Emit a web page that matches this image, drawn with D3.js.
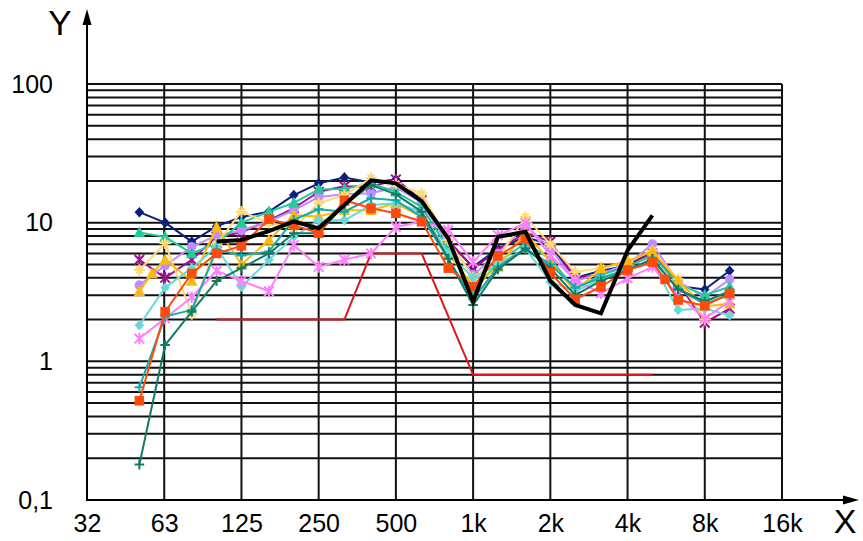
<!DOCTYPE html>
<html>
<head>
<meta charset="utf-8">
<script src="https://cdn.jsdelivr.net/npm/d3@7"></script>
<style>
  html, body { margin: 0; padding: 0; background: #fff; }
  svg { display: block; }
  text { font-family: "Liberation Sans", Arial, Helvetica, sans-serif; fill: #000; }
</style>
</head>
<body>
<svg id="chart" width="863" height="541"></svg>
<script>
// Band frequencies (Hz); 56 and 5600 are only used by a couple of series
const freqs = [50, 56, 63, 80, 100, 125, 160, 200, 250, 315, 400, 500, 630, 800,
               1000, 1250, 1600, 2000, 2500, 3150, 4000, 5000, 5600, 6300, 8000, 10000];

const navyDiamond   = [11.9, null, 10.0, 7.3, 9.4, 11.0, 12.0, 15.8, 19.2, 21.2, 19.5, 20.5, 14.5, 7.3, 4.8, 6.5, 7.9, 6.9, 4.0, 4.5, 4.9, 6.2, null, 3.5, 3.3, 4.5];
const purpleStar    = [5.4, null, 4.0, 5.4, 7.9, 8.5, 10.4, 12.7, 16.7, 18.3, 18.1, 20.5, 14.5, 7.5, 4.7, 6.3, 8.5, 7.3, 4.0, 4.2, 5.0, 6.0, null, 3.7, 1.9, 2.4];
const lilacCircle   = [3.55, null, 4.9, 6.7, 8.1, 8.8, 10.2, 12.3, 15.3, 16.0, 16.3, 18.0, 14.0, 7.0, 4.2, 6.0, 9.6, 6.5, 3.8, 4.3, 5.0, 7.0, null, 3.75, 2.9, 3.9];
const mintTriangle  = [8.5, null, 7.9, 6.0, 7.1, 10.0, 12.0, 13.9, 17.4, 17.5, 19.2, 16.7, 13.0, 6.5, 3.2, 5.2, 7.1, 5.5, 3.3, 4.2, 4.8, 5.8, null, 3.6, 3.0, 3.45];
const paleYellowStar= [4.55, null, 7.1, 2.2, 7.0, 12.0, 10.0, 9.1, 13.8, 15.8, 21.0, 19.0, 16.2, 7.5, 4.0, 5.5, 11.0, 7.0, 4.4, 4.7, 5.2, 6.3, null, 3.9, 2.0, 2.8];
const amberTriangle = [3.2, 4.3, 5.4, 3.8, 9.3, 5.0, 7.5, 11.3, 11.1, 12.3, 12.3, 13.8, 11.0, 6.0, 3.5, 4.8, 8.5, 5.2, 3.2, 4.7, 5.3, 6.2, null, 3.8, 2.5, 2.6];
const skyDiamond    = [1.82, null, 3.4, 4.7, 6.7, 3.45, 5.4, 7.9, 10.4, 10.4, 13.4, 13.8, 12.0, 6.0, 4.0, 5.0, 6.5, 3.75, 3.2, 3.9, 4.6, 5.1, null, 2.35, 2.4, 2.15];
const pinkStar      = [1.46, null, 2.04, 2.9, 4.5, 3.8, 3.2, 6.9, 4.8, 5.4, 6.0, 9.3, 10.2, 8.85, 5.2, 8.1, 9.9, 5.8, 3.85, 3.1, 3.97, 4.8, null, 3.0, 2.04, 2.7];
const tealPlus      = [0.65, null, 2.1, 2.35, 6.4, 5.8, 6.2, 10.5, 12.5, 12.0, 15.0, 14.5, 11.0, 5.5, 2.8, 4.8, 6.5, 5.0, 3.4, 4.0, 4.6, 5.4, null, 3.3, 2.6, 3.0];
const pineCross     = [0.18, null, 1.31, 2.28, 3.8, 4.7, 6.0, 8.4, 8.4, 13.5, 18.7, 16.0, 12.0, 5.5, 2.55, 4.6, 6.5, 4.7, 3.0, 3.8, 4.5, 5.5, null, 3.3, 2.7, 3.2];
const vermilionSquare = [0.52, null, 2.28, 4.3, 6.0, 6.8, 10.6, 9.6, 8.4, 14.5, 12.7, 11.7, 10.2, 4.7, 3.45, 5.75, 7.6, 4.35, 2.8, 3.45, 4.55, 5.2, 3.9, 2.77, 2.52, 3.09];

// Reference curve (thick black)
const refFreqs  = [100, 125, 160, 200, 250, 315, 400, 500, 630, 800, 1000, 1250, 1600, 2000, 2500, 3150, 4000, 5000];
const refValues = [7.3, 7.5, 8.7, 10.2, 9.1, 13.4, 20.2, 19.2, 14.3, 7.7, 2.7, 7.9, 8.6, 3.8, 2.55, 2.22, 6.3, 11.3];

// Limit curve (red)
const limitFreqs  = [100, 315, 400, 630, 1000, 5000];
const limitValues = [2, 2, 6, 6, 0.8, 0.8];

// Axis ticks
const xTicks = [31.25, 62.5, 125, 250, 500, 1000, 2000, 4000, 8000, 16000];
const xTickLabels = ["32", "63", "125", "250", "500", "1k", "2k", "4k", "8k", "16k"];
const yTicks = [0.1, 1, 10, 100];
const yTickLabels = ["0,1", "1", "10", "100"];

const series = [
  { values: navyDiamond,    color: "#0B1F7C", marker: "diamond" },
  { values: purpleStar,     color: "#A0118F", marker: "asterisk" },
  { values: lilacCircle,    color: "#C08CFF", marker: "circle" },
  { values: mintTriangle,   color: "#22CB9C", marker: "triangle" },
  { values: paleYellowStar, color: "#FFD971", marker: "star" },
  { values: amberTriangle,  color: "#FFB90A", marker: "triangle" },
  { values: skyDiamond,     color: "#6AD8D8", marker: "diamond" },
  { values: pinkStar,       color: "#FF80FF", marker: "asterisk" },
  { values: tealPlus,       color: "#14AAAA", marker: "plus" },
  { values: pineCross,      color: "#137A66", marker: "plus" },
  { values: vermilionSquare,color: "#FF4A0A", marker: "square" }
];

const svg = d3.select("#chart");
const plotLeft = 87, plotRight = 782, plotTop = 84, plotBottom = 500;

const x = d3.scaleLog().domain([31.25, 16000]).range([plotLeft, plotRight]);
const y = d3.scaleLog().domain([0.1, 100]).range([plotBottom, plotTop]);

// Grid: every 1..9 step of each decade, plus vertical octave lines
const yGrid = [];
for (let e = -1; e <= 1; e++) for (let m = 1; m <= 9; m++) yGrid.push(+(m * Math.pow(10, e)).toPrecision(3));
yGrid.push(100);

const grid = svg.append("g").attr("stroke", "#111").attr("stroke-width", 2);
grid.selectAll("line.h").data(yGrid.filter(v => v > 0.1)).join("line")
  .attr("class", "h")
  .attr("x1", plotLeft).attr("x2", plotRight)
  .attr("y1", d => y(d)).attr("y2", d => y(d));
grid.selectAll("line.v").data(xTicks.slice(1)).join("line")
  .attr("class", "v")
  .attr("x1", d => x(d)).attr("x2", d => x(d))
  .attr("y1", plotTop).attr("y2", plotBottom);

// Tick labels via d3 axes
const xAxis = svg.append("g").attr("transform", `translate(0,${plotBottom})`)
  .call(d3.axisBottom(x).tickValues(xTicks).tickFormat((d, i) => xTickLabels[i]).tickSize(0).tickPadding(14));
const yAxis = svg.append("g").attr("transform", `translate(${plotLeft},0)`)
  .call(d3.axisLeft(y).tickValues(yTicks).tickFormat((d, i) => yTickLabels[i]).tickSize(0).tickPadding(34));
[xAxis, yAxis].forEach(g => {
  g.select(".domain").remove();
  g.selectAll("text").attr("font-size", 25).attr("font-family", "'Liberation Sans', Arial, sans-serif").attr("fill", "#000");
});

// Axis lines with arrowheads
svg.append("line").attr("x1", plotLeft).attr("x2", plotLeft).attr("y1", plotBottom + 1).attr("y2", 20)
  .attr("stroke", "#000").attr("stroke-width", 2);
svg.append("path").attr("d", `M${plotLeft},9 L${plotLeft - 4.5},25 L${plotLeft + 4.5},25 Z`).attr("fill", "#000");
svg.append("line").attr("x1", plotLeft - 1).attr("x2", 850).attr("y1", plotBottom).attr("y2", plotBottom)
  .attr("stroke", "#000").attr("stroke-width", 2);
svg.append("path").attr("d", `M859,${plotBottom} L843,${plotBottom - 4.5} L843,${plotBottom + 4.5} Z`).attr("fill", "#000");

svg.append("text").attr("x", 60).attr("y", 35).attr("text-anchor", "middle").attr("font-size", 35).text("Y");
svg.append("text").attr("x", 845).attr("y", 533).attr("text-anchor", "middle").attr("font-size", 34).text("X");

const line = d3.line().x(d => x(d[0])).y(d => y(d[1]));

// Limit curve
svg.append("path")
  .datum(limitFreqs.map((f, i) => [f, limitValues[i]]))
  .attr("d", line).attr("fill", "none").attr("stroke", "#E0141B").attr("stroke-width", 2);

function drawMarker(g, type, color) {
  const s = 4.8;
  switch (type) {
    case "diamond":
      g.append("path").attr("d", `M0,${-s - 0.5} L${s},0 L0,${s + 0.5} L${-s},0 Z`).attr("fill", color); break;
    case "square":
      g.append("rect").attr("x", -s).attr("y", -s).attr("width", 2 * s).attr("height", 2 * s).attr("fill", color); break;
    case "circle":
      g.append("circle").attr("r", s).attr("fill", color); break;
    case "triangle":
      g.append("path").attr("d", `M0,${-s - 1.5} L${s + 1},${s} L${-s - 1},${s} Z`).attr("fill", color); break;
    case "plus":
      g.append("path").attr("d", `M${-s},0 H${s} M0,${-s} V${s}`).attr("stroke", color).attr("stroke-width", 2); break;
    case "asterisk":
      g.append("path").attr("d", `M${-s},${-s} L${s},${s} M${-s},${s} L${s},${-s} M0,${-s - 1} V${s + 1}`)
        .attr("stroke", color).attr("stroke-width", 2); break;
    case "star":
      g.append("path").attr("d", `M${-s - 1},0 H${s + 1} M0,${-s - 1} V${s + 1} M${-s * 0.7},${-s * 0.7} L${s * 0.7},${s * 0.7} M${-s * 0.7},${s * 0.7} L${s * 0.7},${-s * 0.7}`)
        .attr("stroke", color).attr("stroke-width", 2); break;
  }
}

// Measured series
series.forEach(s => {
  const pts = freqs.map((f, i) => [f, s.values[i]]).filter(d => d[1] != null);
  const g = svg.append("g");
  g.append("path").datum(pts).attr("d", line)
    .attr("fill", "none").attr("stroke", s.color).attr("stroke-width", 2).attr("stroke-linejoin", "round");
  g.selectAll("g.m").data(pts).join("g").attr("class", "m")
    .attr("transform", d => `translate(${x(d[0])},${y(d[1])})`)
    .each(function () { drawMarker(d3.select(this), s.marker, s.color); });
});

// Reference curve on top
svg.append("path")
  .datum(refFreqs.map((f, i) => [f, refValues[i]]))
  .attr("d", line).attr("fill", "none").attr("stroke", "#000").attr("stroke-width", 4).attr("stroke-linejoin", "miter");
</script>
</body>
</html>
